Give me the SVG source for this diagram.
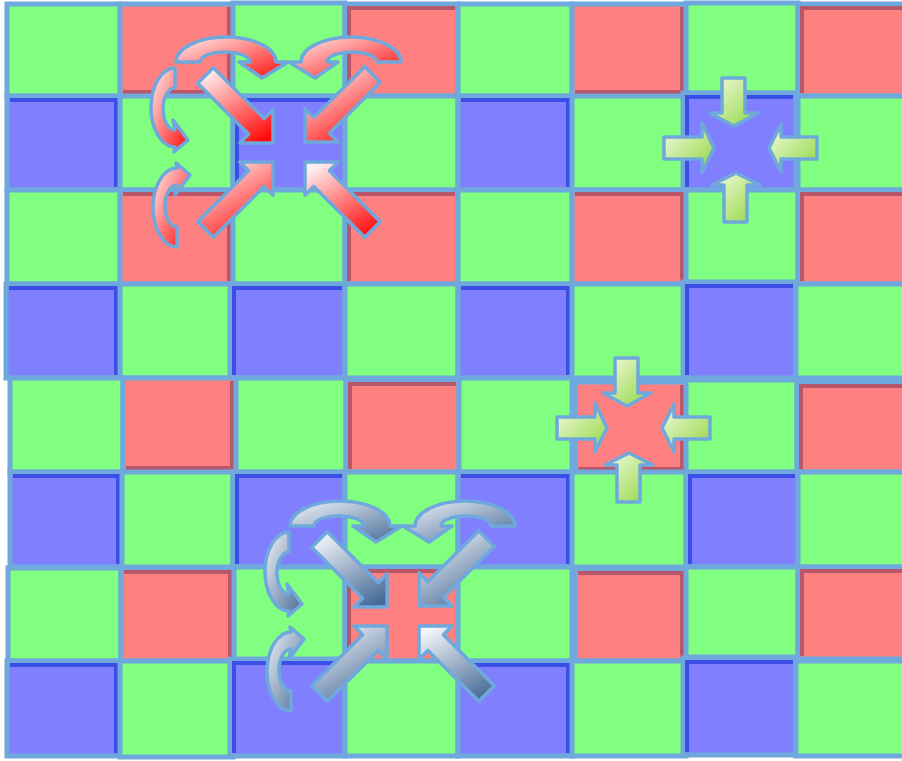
<svg xmlns="http://www.w3.org/2000/svg" width="902" height="761" viewBox="0 0 902 761">
<defs>
<style>
.g{fill:#80ff80;stroke:#6fa8dc;stroke-width:5}
.r{fill:#ff8080;stroke:#6fa8dc;stroke-width:5}
.b{fill:#8080ff;stroke:#6fa8dc;stroke-width:5}
.db{fill:none;stroke:#3b4ee6;stroke-width:4}
.dr{fill:none;stroke:#b8566a;stroke-width:4}
.ar{stroke:#6fa8dc;stroke-width:3.5;stroke-linejoin:round}
</style>
<linearGradient id="gRV" x1="0.2" y1="0" x2="0.8" y2="1"><stop offset="0" stop-color="#fff2f2"/><stop offset="1" stop-color="#ff0a0a"/></linearGradient>
<linearGradient id="gRD" x1="0" y1="0" x2="1" y2="1"><stop offset="0" stop-color="#fff2f2"/><stop offset="1" stop-color="#ff0a0a"/></linearGradient>
<linearGradient id="gBV" x1="0.2" y1="0" x2="0.8" y2="1"><stop offset="0" stop-color="#f4f6fa"/><stop offset="1" stop-color="#456a96"/></linearGradient>
<linearGradient id="gBD" x1="0" y1="0" x2="1" y2="1"><stop offset="0" stop-color="#f4f6fa"/><stop offset="1" stop-color="#456a96"/></linearGradient>
<linearGradient id="gG" x1="0" y1="0" x2="1" y2="1"><stop offset="0" stop-color="#f6fbe4"/><stop offset="1" stop-color="#8ed63e"/></linearGradient>
</defs>
<rect width="902" height="761" fill="#ffffff"/>
<g id="grid">
<!-- row 0 -->
<g id="r0c0"><rect class="g" x="7" y="4" width="113" height="92"/></g>
<g id="r0c1"><rect class="r" x="120" y="4" width="113" height="92"/><path class="dr" d="M229,7 V92 H123"/></g>
<g id="r0c2"><rect class="g" x="233" y="3" width="112" height="93"/></g>
<g id="r0c3"><rect class="r" x="345" y="4" width="113" height="92"/><path class="dr" d="M455,8 H349 V93"/></g>
<g id="r0c4"><rect class="g" x="458" y="4" width="114" height="92"/></g>
<g id="r0c5"><rect class="r" x="572" y="4" width="114" height="92"/><path class="dr" d="M682,7 V92 H575"/></g>
<g id="r0c6"><rect class="g" x="686" y="3" width="112" height="90"/></g>
<g id="r0c7"><rect class="r" x="798" y="4" width="108" height="92"/><path class="dr" d="M904,8 H802 V93"/></g>
<!-- row 1 -->
<g id="r1c0"><rect class="b" x="7" y="96" width="113" height="94"/><path class="db" d="M10,100 H116 V187"/></g>
<g id="r1c1"><rect class="g" x="120" y="96" width="113" height="94"/></g>
<g id="r1c2"><rect class="b" x="233" y="96" width="112" height="94"/><path class="db" d="M342,100 H237 V187"/></g>
<g id="r1c3"><rect class="g" x="345" y="96" width="113" height="94"/></g>
<g id="r1c4"><rect class="b" x="458" y="96" width="114" height="94"/><path class="db" d="M461,100 H568 V187"/></g>
<g id="r1c5"><rect class="g" x="572" y="96" width="114" height="94"/></g>
<g id="r1c6"><rect class="b" x="683" y="93" width="113" height="97"/><path class="db" d="M793,97 H687 V187"/></g>
<g id="r1c7"><rect class="g" x="798" y="96" width="108" height="94"/></g>
<!-- row 2 -->
<g id="r2c0"><rect class="g" x="7" y="190" width="113" height="94"/></g>
<g id="r2c1"><rect class="r" x="120" y="190" width="113" height="94"/><path class="dr" d="M123,194 H229 V281"/></g>
<g id="r2c2"><rect class="g" x="233" y="190" width="112" height="94"/></g>
<g id="r2c3"><rect class="r" x="345" y="190" width="113" height="94"/><path class="dr" d="M455,194 H349 V281"/></g>
<g id="r2c4"><rect class="g" x="458" y="190" width="114" height="94"/></g>
<g id="r2c5"><rect class="r" x="572" y="190" width="114" height="94"/><path class="dr" d="M575,194 H682 V281"/></g>
<g id="r2c6"><rect class="g" x="686" y="190" width="112" height="94"/></g>
<g id="r2c7"><rect class="r" x="798" y="190" width="108" height="94"/><path class="dr" d="M904,194 H802 V281"/></g>
<!-- row 3 -->
<g id="r3c0"><rect class="b" x="6" y="284" width="114" height="94"/><path class="db" d="M9,288 H116 V375"/></g>
<g id="r3c1"><rect class="g" x="120" y="284" width="113" height="94"/></g>
<g id="r3c2"><rect class="b" x="230" y="284" width="115" height="94"/><path class="db" d="M342,288 H234 V375"/></g>
<g id="r3c3"><rect class="g" x="345" y="284" width="113" height="94"/></g>
<g id="r3c4"><rect class="b" x="458" y="284" width="114" height="94"/><path class="db" d="M461,288 H568 V375"/></g>
<g id="r3c5"><rect class="g" x="572" y="284" width="114" height="94"/></g>
<g id="r3c6"><rect class="b" x="683" y="282" width="113" height="96"/><path class="db" d="M793,286 H687 V375"/></g>
<g id="r3c7"><rect class="g" x="796" y="284" width="110" height="94"/></g>
<!-- row 4 -->
<g id="r4c0"><rect class="g" x="10" y="378" width="113" height="94"/></g>
<g id="r4c1"><rect class="r" x="123" y="378" width="113" height="94"/><path class="dr" d="M232,381 V468 H126"/></g>
<g id="r4c2"><rect class="g" x="236" y="378" width="110" height="94"/></g>
<g id="r4c3"><rect class="r" x="346" y="380" width="113" height="92"/><path class="dr" d="M456,384 H350 V469"/></g>
<g id="r4c4"><rect class="g" x="459" y="378" width="113" height="94"/></g>
<g id="r4c5"><rect class="r" x="575" y="382" width="111" height="91"/><path class="dr" d="M682,385 V469 H578"/></g>
<g id="r4c6"><rect class="g" x="686" y="380" width="111" height="92"/></g>
<g id="r4c7"><rect class="r" x="797" y="382" width="109" height="90"/><path class="dr" d="M904,386 H801 V469"/></g>
<!-- row 5 -->
<g id="r5c0"><rect class="b" x="10" y="472" width="112" height="95"/><path class="db" d="M13,476 H118 V564"/></g>
<g id="r5c1"><rect class="g" x="122" y="472" width="111" height="95"/></g>
<g id="r5c2"><rect class="b" x="233" y="472" width="112" height="95"/><path class="db" d="M342,476 H237 V564"/></g>
<g id="r5c3"><rect class="g" x="345" y="472" width="113" height="95"/></g>
<g id="r5c4"><rect class="b" x="458" y="472" width="114" height="95"/><path class="db" d="M461,476 H568 V564"/></g>
<g id="r5c5"><rect class="g" x="572" y="472" width="114" height="95"/></g>
<g id="r5c6"><rect class="b" x="686" y="472" width="112" height="95"/><path class="db" d="M795,476 H690 V564"/></g>
<g id="r5c7"><rect class="g" x="798" y="472" width="108" height="95"/></g>
<!-- row 6 -->
<g id="r6c0"><rect class="g" x="8" y="568" width="113" height="93"/></g>
<g id="r6c1"><rect class="r" x="121" y="568" width="113" height="93"/><path class="dr" d="M124,572 H230 V658"/></g>
<g id="r6c2"><rect class="g" x="234" y="567" width="111" height="94"/></g>
<g id="r6c3"><rect class="r" x="345" y="567" width="113" height="94"/><path class="dr" d="M455,571 H349 V658"/></g>
<g id="r6c4"><rect class="g" x="458" y="567" width="114" height="94"/></g>
<g id="r6c5"><rect class="r" x="575" y="569" width="111" height="92"/><path class="dr" d="M578,573 H682 V658"/></g>
<g id="r6c6"><rect class="g" x="686" y="567" width="112" height="90"/></g>
<g id="r6c7"><rect class="r" x="798" y="567" width="108" height="92"/><path class="dr" d="M904,571 H802 V656"/></g>
<!-- row 7 -->
<g id="r7c0"><rect class="b" x="7" y="661" width="113" height="95"/><path class="db" d="M10,665 H116 V753"/></g>
<g id="r7c1"><rect class="g" x="120" y="661" width="113" height="96"/></g>
<g id="r7c2"><rect class="b" x="230" y="659" width="115" height="97"/><path class="db" d="M342,663 H234 V753"/></g>
<g id="r7c3"><rect class="g" x="345" y="661" width="113" height="95"/></g>
<g id="r7c4"><rect class="b" x="458" y="661" width="114" height="95"/><path class="db" d="M461,665 H568 V753"/></g>
<g id="r7c5"><rect class="g" x="572" y="661" width="114" height="95"/></g>
<g id="r7c6"><rect class="b" x="683" y="658" width="113" height="97"/><path class="db" d="M793,662 H687 V752"/></g>
<g id="r7c7"><rect class="g" x="796" y="661" width="110" height="95"/></g>
</g>
<g id="arrows">
<g id="fan-red">
<path class="ar" fill="url(#gRD)" d="M176,62 A50,25 0 0 1 276,62 L288,62 L262,78 L239,62 L250,62 A25,10 0 0 0 200,62 Z"/>
<path class="ar" fill="url(#gRD)" d="M401,62 A50,25 0 0 0 301,62 L289,62 L315,78 L338,62 L327,62 A25,10 0 0 1 377,62 Z"/>
<path class="ar" fill="url(#gRD)" d="M175,68 A24,39.5 0 0 0 175,147 L174,152 L188,140 L173,120 L175,130 A12,21 0 0 1 175,88 Z"/>
<path class="ar" fill="url(#gRD)" d="M177,247 A24,39.5 0 0 1 177,168 L176,163 L190,175 L175,195 L177,185 A12,21 0 0 0 177,227 Z"/>
<polygon class="ar" fill="url(#gRV)" points="213.3,67.7 264.2,118.6 273,109.8 273,143 239.8,143 248.6,134.2 197.7,83.3"/>
<polygon class="ar" fill="url(#gRV)" points="364.8,66.7 313.8,117.6 305,108.8 305,142 338.2,142 329.4,133.2 380.3,82.3"/>
<polygon class="ar" fill="url(#gRV)" points="197.7,221.8 248.6,170.8 239.8,162 273,162 273,195.2 264.2,186.4 213.3,237.3"/>
<polygon class="ar" fill="url(#gRV)" points="380.3,221.8 329.4,170.8 338.2,162 305,162 305,195.2 313.8,186.4 364.8,237.3"/>
</g>
<g id="fan-blue" transform="translate(114,464)">
<path class="ar" fill="url(#gBD)" d="M176,62 A50,25 0 0 1 276,62 L288,62 L262,78 L239,62 L250,62 A25,10 0 0 0 200,62 Z"/>
<path class="ar" fill="url(#gBD)" d="M401,62 A50,25 0 0 0 301,62 L289,62 L315,78 L338,62 L327,62 A25,10 0 0 1 377,62 Z"/>
<path class="ar" fill="url(#gBD)" d="M175,68 A24,39.5 0 0 0 175,147 L174,152 L188,140 L173,120 L175,130 A12,21 0 0 1 175,88 Z"/>
<path class="ar" fill="url(#gBD)" d="M177,247 A24,39.5 0 0 1 177,168 L176,163 L190,175 L175,195 L177,185 A12,21 0 0 0 177,227 Z"/>
<polygon class="ar" fill="url(#gBV)" points="213.3,67.7 264.2,118.6 273,109.8 273,143 239.8,143 248.6,134.2 197.7,83.3"/>
<polygon class="ar" fill="url(#gBV)" points="364.8,66.7 313.8,117.6 305,108.8 305,142 338.2,142 329.4,133.2 380.3,82.3"/>
<polygon class="ar" fill="url(#gBV)" points="197.7,221.8 248.6,170.8 239.8,162 273,162 273,195.2 264.2,186.4 213.3,237.3"/>
<polygon class="ar" fill="url(#gBV)" points="380.3,221.8 329.4,170.8 338.2,162 305,162 305,195.2 313.8,186.4 364.8,237.3"/>
</g>
<g id="cross-green-a">
<polygon class="ar" fill="url(#gG)" points="722,78 745,78 745,113 758,113 734,126 710,113 722,113"/>
<polygon class="ar" fill="url(#gG)" points="736,173 760,185 747,185 747,222 724,222 724,185 712,185"/>
<polygon class="ar" fill="url(#gG)" points="664,137 702,137 702,123 714,148 702,172 702,159 664,159"/>
<polygon class="ar" fill="url(#gG)" points="769,148 781,124 781,137 817,137 817,159 781,159 781,172"/>
</g>
<g id="cross-green-b" transform="translate(-107,280)">
<polygon class="ar" fill="url(#gG)" points="722,78 745,78 745,113 758,113 734,126 710,113 722,113"/>
<polygon class="ar" fill="url(#gG)" points="736,173 760,185 747,185 747,222 724,222 724,185 712,185"/>
<polygon class="ar" fill="url(#gG)" points="664,137 702,137 702,123 714,148 702,172 702,159 664,159"/>
<polygon class="ar" fill="url(#gG)" points="769,148 781,124 781,137 817,137 817,159 781,159 781,172"/>
</g>
</g>
</svg>
